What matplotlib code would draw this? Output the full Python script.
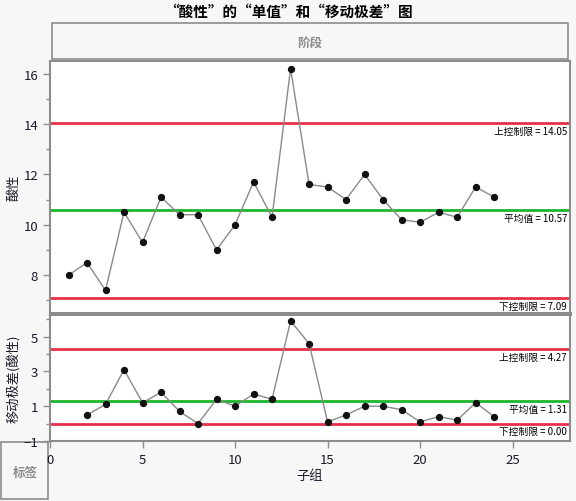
import matplotlib
matplotlib.use("Agg")
import matplotlib.pyplot as plt
from matplotlib.patches import Rectangle
from matplotlib.ticker import FixedLocator

plt.rcParams['font.family'] = ['Noto Sans CJK SC', 'DejaVu Sans']

# ---- data ----
subgroups = list(range(1, 25))
acidity = [8.0, 8.5, 7.4, 10.5, 9.3, 11.1, 10.4, 10.4, 9.0, 10.0, 11.7, 10.3,
           16.2, 11.6, 11.5, 11.0, 12.0, 11.0, 10.2, 10.1, 10.5, 10.3, 11.5, 11.1]
mr_subgroups = list(range(2, 25))
moving_range = [0.5, 1.1, 3.1, 1.2, 1.8, 0.7, 0.0, 1.4, 1.0, 1.7, 1.4, 5.9,
                4.6, 0.1, 0.5, 1.0, 1.0, 0.8, 0.1, 0.4, 0.2, 1.2, 0.4]
ind_limits = {"ucl": 14.05, "mean": 10.57, "lcl": 7.09}
mr_limits = {"ucl": 4.27, "mean": 1.31, "lcl": 0.00}
limit_names = ["上控制限", "平均值", "下控制限"]

title = "“酸性”的“单值”和“移动极差”图"

W, H = 576, 502
fig = plt.figure(figsize=(W / 100, H / 100), dpi=100, facecolor='#f7f7f7')

def fx(px):
    return px / W

def fy(py):
    return 1 - py / H

RED = '#e8304a'
GREEN = '#1db52a'
SPINE = '#8c8c8c'
TXT = '#1a1a2a'

ax1 = fig.add_axes([fx(50), fy(314), fx(520), (314 - 62) / H])
ax2 = fig.add_axes([fx(50), fy(442), fx(520), (442 - 315) / H])

def style(ax):
    ax.set_facecolor('white')
    for s in ax.spines.values():
        s.set_color(SPINE)
        s.set_linewidth(1.5)
    ax.tick_params(axis='both', colors=SPINE, labelcolor=TXT, labelsize=9.5,
                   length=5, width=1)
    ax.tick_params(which='minor', colors=SPINE, length=3, width=1)

style(ax1)
style(ax2)
ax1.spines['bottom'].set_linewidth(2.2)
ax2.spines['top'].set_linewidth(2.2)

cols = [RED, GREEN, RED]

# Individuals chart
ax1.plot(subgroups, acidity, color='#8a8a8a', lw=1, zorder=3)
ax1.scatter(subgroups, acidity, s=18, color='#111111', zorder=4)
vals = [ind_limits["ucl"], ind_limits["mean"], ind_limits["lcl"]]
for v, c, n in zip(vals, cols, limit_names):
    ax1.axhline(v, color=c, lw=2, zorder=2)
    ax1.annotate(f"{n} = {v:.2f}", xy=(0.994, v), xycoords=('axes fraction', 'data'),
                 xytext=(0, -2), textcoords='offset points', ha='right', va='top',
                 fontsize=7, color='black')
ax1.set_xlim(0, 28.1)
ax1.set_ylim(6.5, 16.5)
ax1.yaxis.set_major_locator(FixedLocator([8, 10, 12, 14, 16]))
ax1.yaxis.set_minor_locator(FixedLocator([7, 9, 11, 13, 15]))
ax1.set_xticks([])
ax1.set_ylabel("酸性", fontsize=9.5, color=TXT)

# Moving range chart
ax2.plot(mr_subgroups, moving_range, color='#8a8a8a', lw=1, zorder=3)
ax2.scatter(mr_subgroups, moving_range, s=18, color='#111111', zorder=4)
vals2 = [mr_limits["ucl"], mr_limits["mean"], mr_limits["lcl"]]
for v, c, n in zip(vals2, cols, limit_names):
    ax2.axhline(v, color=c, lw=2, zorder=2)
    ax2.annotate(f"{n} = {v:.2f}", xy=(0.994, v), xycoords=('axes fraction', 'data'),
                 xytext=(0, -2), textcoords='offset points', ha='right', va='top',
                 fontsize=7, color='black')
ax2.set_xlim(0, 28.1)
ax2.set_ylim(-1, 6.3)
ax2.yaxis.set_major_locator(FixedLocator([-1, 1, 3, 5]))
ax2.yaxis.set_minor_locator(FixedLocator([0, 2, 4, 6]))
ax2.xaxis.set_major_locator(FixedLocator([0, 5, 10, 15, 20, 25]))
ax2.set_ylabel("移动极差(酸性)", fontsize=9.5, color=TXT)
ax2.set_xlabel("子组", fontsize=9.5, color=TXT, labelpad=2)
ax1.yaxis.set_label_coords(-0.058, 0.5)
ax2.yaxis.set_label_coords(-0.058, 0.5)

# Title
fig.text(0.5, fy(12), title, ha='center', va='center', fontsize=10.5,
         fontweight='bold', color='black')

# Phase box
fig.patches.append(Rectangle((fx(52), fy(60)), fx(516), 36 / H, transform=fig.transFigure,
                             facecolor='#f7f7f7', edgecolor=SPINE, lw=1.2, zorder=-1))
fig.text(fx(310), fy(43), "阶段", ha='center', va='center', fontsize=9,
         color='#8c8c8c', fontweight='bold')

# Label box
fig.patches.append(Rectangle((fx(1), fy(500)), fx(47), 57 / H, transform=fig.transFigure,
                             facecolor='#f7f7f7', edgecolor=SPINE, lw=1.2, zorder=-1))
fig.text(fx(25), fy(473), "标签", ha='center', va='center', fontsize=9,
         color='#8c8c8c', fontweight='bold')

fig.savefig("out.png", dpi=100, facecolor=fig.get_facecolor())
